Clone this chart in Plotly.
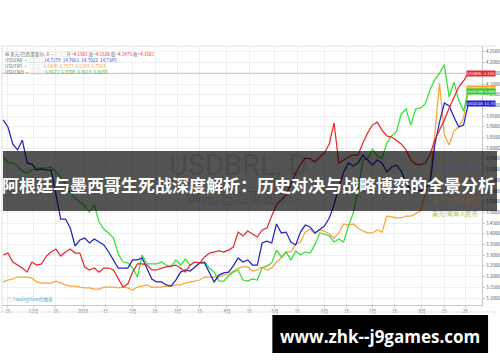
import plotly.graph_objects as go
import pandas as pd

# ---------------- data ----------------
dates = pd.date_range('2017-11-12', periods=98, freq='3D')

usdbrl = [3.301, 3.310, 3.268, 3.254, 3.240, 3.221, 3.268, 3.254, 3.259, 3.296,
          3.315, 3.329, 3.296, 3.315, 3.329, 3.310, 3.310, 3.245, 3.231, 3.240,
          3.221, 3.240, 3.240, 3.231, 3.193, 3.151, 3.165, 3.221, 3.259, 3.259,
          3.254, 3.231, 3.231, 3.240, 3.245, 3.250, 3.254, 3.240, 3.221, 3.254,
          3.268, 3.264, 3.292, 3.310, 3.315, 3.320, 3.315, 3.324, 3.338, 3.408,
          3.390, 3.413, 3.399, 3.385, 3.418, 3.427, 3.483, 3.535, 3.558, 3.581,
          3.633, 3.684, 3.726, 3.754, 3.750, 3.736, 3.759, 3.778, 3.820, 3.918,
          3.731, 3.745, 3.759, 3.768, 3.768, 3.824, 3.871, 3.908, 3.922, 3.885,
          3.857, 3.852, 3.838, 3.820, 3.792, 3.745, 3.726, 3.722, 3.731, 3.768,
          3.838, 3.885, 3.932, 3.988, 4.035, 4.086, 4.114, 4.150]

usdzar = [3.932, 3.899, 3.820, 3.792, 3.838, 3.731, 3.726, 3.698, 3.703, 3.698,
          3.698, 3.581, 3.469, 3.469, 3.427, 3.343, 3.371, 3.380, 3.357, 3.376,
          3.362, 3.348, 3.315, 3.278, 3.240, 3.240, 3.240, 3.278, 3.278, 3.287,
          3.240, 3.189, 3.175, 3.175, 3.161, 3.156, 3.184, 3.221, 3.231, 3.226,
          3.245, 3.264, 3.264, 3.221, 3.175, 3.207, 3.217, 3.221, 3.250, 3.287,
          3.268, 3.278, 3.254, 3.254, 3.357, 3.366, 3.357, 3.446, 3.404, 3.408,
          3.362, 3.348, 3.408, 3.441, 3.432, 3.404, 3.418, 3.436, 3.474, 3.535,
          3.619, 3.689, 3.731, 3.717, 3.731, 3.768, 3.745, 3.722, 3.745, 3.731,
          3.689, 3.712, 3.722, 3.693, 3.637, 3.609, 3.605, 3.600, 3.619, 3.628,
          3.815, 3.922, 4.011, 3.997, 3.946, 3.899, 3.908, 4.007]

usdtry = [3.175, 3.184, 3.189, 3.198, 3.198, 3.198, 3.193, 3.175, 3.170, 3.170,
          3.170, 3.179, 3.170, 3.161, 3.156, 3.156, 3.151, 3.147, 3.147, 3.142,
          3.142, 3.151, 3.151, 3.151, 3.147, 3.151, 3.147, 3.137, 3.151, 3.156,
          3.161, 3.151, 3.151, 3.151, 3.156, 3.156, 3.161, 3.161, 3.170, 3.175,
          3.179, 3.184, 3.198, 3.198, 3.198, 3.198, 3.207, 3.212, 3.226, 3.240,
          3.245, 3.245, 3.226, 3.231, 3.245, 3.231, 3.240, 3.268, 3.287, 3.315,
          3.315, 3.352, 3.362, 3.408, 3.422, 3.399, 3.418, 3.413, 3.399, 3.380,
          3.404, 3.446, 3.441, 3.446, 3.427, 3.413, 3.404, 3.404, 3.418, 3.408,
          3.483, 3.479, 3.474, 3.474, 3.483, 3.483, 3.493, 3.507, 3.581, 3.661,
          3.862, 4.105, 3.862, 3.815, 3.880, 3.899, 3.941, 4.081]

usdcnh = [3.759, 3.731, 3.731, 3.717, 3.693, 3.684, 3.698, 3.707, 3.707, 3.707,
          3.712, 3.689, 3.665, 3.633, 3.595, 3.567, 3.549, 3.530, 3.502, 3.535,
          3.455, 3.422, 3.404, 3.380, 3.306, 3.268, 3.264, 3.240, 3.198, 3.301,
          3.259, 3.259, 3.259, 3.268, 3.254, 3.245, 3.278, 3.254, 3.282, 3.254,
          3.268, 3.264, 3.268, 3.240, 3.221, 3.179, 3.179, 3.203, 3.221, 3.231,
          3.184, 3.179, 3.189, 3.184, 3.240, 3.250, 3.264, 3.324, 3.292, 3.315,
          3.278, 3.320, 3.301, 3.315, 3.310, 3.348, 3.404, 3.399, 3.390, 3.362,
          3.376, 3.362, 3.436, 3.497, 3.605, 3.745, 3.750, 3.796, 3.764, 3.754,
          3.824, 3.857, 3.876, 3.960, 3.983, 3.908, 3.983, 3.988, 4.007, 4.072,
          4.119, 4.151, 4.190, 4.039, 4.109, 4.025, 3.974, 4.063]

x_tick_dates = ['2017-11-15', '2017-12-01', '2017-12-15', '2018-01-01', '2018-01-15',
                '2018-02-01', '2018-02-15', '2018-03-01', '2018-03-15', '2018-04-01',
                '2018-04-15', '2018-05-01', '2018-05-15', '2018-06-01', '2018-06-15',
                '2018-07-01', '2018-07-15', '2018-08-01', '2018-08-15', '2018-08-28']
x_tick_text = ['15', '12月', '15', '2018', '15', '2月', '15', '3月', '15', '4月',
               '15', '5月', '15', '6月', '15', '7月', '15', '8月', '15', '28']

y_tick_vals = [3.10, 3.15, 3.20, 3.25, 3.30, 3.35, 3.40, 3.45, 3.50, 3.55, 3.60, 3.65,
               3.70, 3.75, 3.80, 3.85, 3.90, 3.95, 4.00, 4.05, 4.10, 4.15, 4.20, 4.25]
y_tick_text = ['%.4f' % v for v in y_tick_vals]

brl_ohlc = ['4.1501', '4.1520', '4.1475', '4.1501']
zar_ohlc = ['14.7179', '14.7661', '14.7022', '14.7345']
try_ohlc = ['6.6490', '6.7877', '6.6295', '6.7024']
cnh_ohlc = ['6.8672', '6.8708', '6.8618', '6.8655']

RED, BLUE, ORANGE, GREEN = '#e8282e', '#2323c8', '#f8a53a', '#33e033'
CJK = 'Noto Sans CJK SC'

W, H = 500, 362
def px(x):
    return x / W
def py(y):
    return (H - y) / H

fig = go.Figure()
for name, vals, col in [('USDTRY', usdtry, ORANGE), ('USDCNH', usdcnh, GREEN),
                        ('USDZAR', usdzar, BLUE), ('USDBRL', usdbrl, RED)]:
    fig.add_trace(go.Scatter(x=dates, y=vals, mode='lines', name=name,
                             line=dict(color=col, width=1.25), showlegend=False,
                             hoverinfo='skip'))

fig.update_layout(
    width=W, height=H, autosize=False,
    margin=dict(l=0, r=0, t=0, b=0),
    paper_bgcolor='white', plot_bgcolor='white',
    font=dict(family=CJK, color='#555'),
    xaxis=dict(domain=[px(2), px(485)], type='date',
               range=['2017-11-11 06:30', '2018-09-07 14:40'],
               tickvals=x_tick_dates, ticktext=x_tick_text,
               tickfont=dict(size=4.5, color='#555'),
               showgrid=True, gridcolor='#efefef', gridwidth=1,
               showline=True, linecolor='#c8c8c8', linewidth=1,
               ticks='outside', ticklen=2, tickcolor='#c8c8c8', zeroline=False),
    yaxis=dict(domain=[py(305), py(46)], side='right',
               range=[3.0673, 4.2776],
               tickvals=y_tick_vals, ticktext=y_tick_text,
               tickfont=dict(size=4.5, color='#555'),
               showgrid=True, gridcolor='#efefef', gridwidth=1,
               showline=True, linecolor='#c8c8c8', linewidth=1,
               ticks='outside', ticklen=2, tickcolor='#c8c8c8', zeroline=False),
)

shapes = []
# chart frame
shapes.append(dict(type='line', xref='paper', yref='paper', x0=0, x1=1, y0=py(46), y1=py(46),
                   line=dict(color='#e2e2e2', width=1)))
shapes.append(dict(type='line', xref='paper', yref='paper', x0=px(2), x1=px(2), y0=py(312), y1=py(46),
                   line=dict(color='#e2e2e2', width=1)))
shapes.append(dict(type='line', xref='paper', yref='paper', x0=0, x1=1, y0=py(312), y1=py(312),
                   line=dict(color='#e2e2e2', width=1)))
# price line
shapes.append(dict(type='line', xref='paper', yref='y', x0=px(2), x1=px(485),
                   y0=float(brl_ohlc[3]), y1=float(brl_ohlc[3]),
                   line=dict(color='rgba(242,54,69,0.35)', width=1)))
# dark title band
shapes.append(dict(type='rect', xref='paper', yref='paper', x0=px(3), x1=1.0,
                   y0=py(211), y1=py(151), fillcolor='rgba(0,0,0,0.67)',
                   line=dict(width=0), layer='above'))
# site box
shapes.append(dict(type='rect', xref='paper', yref='paper', x0=px(274), x1=px(491),
                   y0=py(353), y1=py(315), fillcolor='black',
                   line=dict(width=0), layer='above'))
fig.update_layout(shapes=shapes)

ann = []
def span(t, c):
    return '<span style="color:%s">%s</span>' % (c, t)

rows = [
    ('⊟ 美元/巴西雷亚尔, D · ' + span('□□', '#ccc') + ' 开=' + span(brl_ohlc[0], RED) +
     ' 高=' + span(brl_ohlc[1], RED) + ' 低=' + span(brl_ohlc[2], RED) +
     ' 收=' + span(brl_ohlc[3], RED), 54.5),
    ('USDZAR · ' + span('□□□', '#ccc') + ' ' + span('  '.join(zar_ohlc), '#4040e0'), 60.3),
    ('USDTRY · ' + span('□□□', '#ccc') + ' ' + span('  '.join(try_ohlc), ORANGE), 66.0),
    ('USDCNH · ' + span('□□□', '#ccc') + ' ' + span('  '.join(cnh_ohlc), '#22c022'), 72.0),
]
for t, yy in rows:
    ann.append(dict(x=px(3), y=py(yy), xref='paper', yref='paper', text=t,
                    showarrow=False, xanchor='left', yanchor='middle',
                    font=dict(size=4.6, color='#666', family=CJK)))

# watermark
ann.append(dict(x=px(240), y=py(165), xref='paper', yref='paper', text='USDBRL, D',
                showarrow=False, font=dict(size=29, color='rgba(0,0,0,0.13)', family='Roboto')))
ann.append(dict(x=px(240), y=py(197), xref='paper', yref='paper', text='美元/巴西雷亚尔',
                showarrow=False, font=dict(size=14, color='rgba(0,0,0,0.13)', family=CJK)))

# series labels on the right
for t, yy, c in [('美元/南非兰特', 165, '#4b5573'), ('美元/土耳其里拉', 199, '#7a5a3a'),
                 ('美元/离岸人民币', 214, '#a9c64e')]:
    ann.append(dict(x=px(483), y=py(yy), xref='paper', yref='paper', text=t,
                    showarrow=False, xanchor='right', yanchor='middle',
                    font=dict(size=6.2, color=c, family=CJK)))

# TradingView credit
ann.append(dict(x=px(5), y=py(299), xref='paper', yref='paper', text='☁ TradingView的图表',
                showarrow=False, xanchor='left', yanchor='middle',
                font=dict(size=4.6, color='#5aa6d6', family=CJK)))

# price tags
for name, vals, last, col in [('USDBRL', usdbrl, brl_ohlc[3], RED),
                              ('USDTRY', usdtry, try_ohlc[3], ORANGE),
                              ('USDCNH', usdcnh, cnh_ohlc[3], '#22d022'),
                              ('USDZAR', usdzar, zar_ohlc[3], '#2020d8')]:
    ann.append(dict(x=px(469), y=vals[-1], xref='paper', yref='y',
                    text=name + ' ' + last, showarrow=False, xanchor='left', yanchor='middle',
                    bgcolor=col, width=28, height=5, borderpad=0, align='left',
                    font=dict(size=3.8, color='white', family='DejaVu Sans')))

# headline
ann.append(dict(x=0.5, y=py(184), xref='paper', yref='paper',
                text='阿根廷与墨西哥生死战深度解析：历史对决与战略博弈的全景分析',
                showarrow=False, xanchor='center', yanchor='middle',
                font=dict(size=17, color='white', family=CJK, weight='bold')))
# site text
ann.append(dict(x=px(382), y=py(336), xref='paper', yref='paper',
                text='www.zhk--j9games.com', showarrow=False,
                xanchor='center', yanchor='middle',
                font=dict(size=17, color='white', family='Open Sans', weight='bold')))

fig.update_layout(annotations=ann)
fig.write_html('out.html')
